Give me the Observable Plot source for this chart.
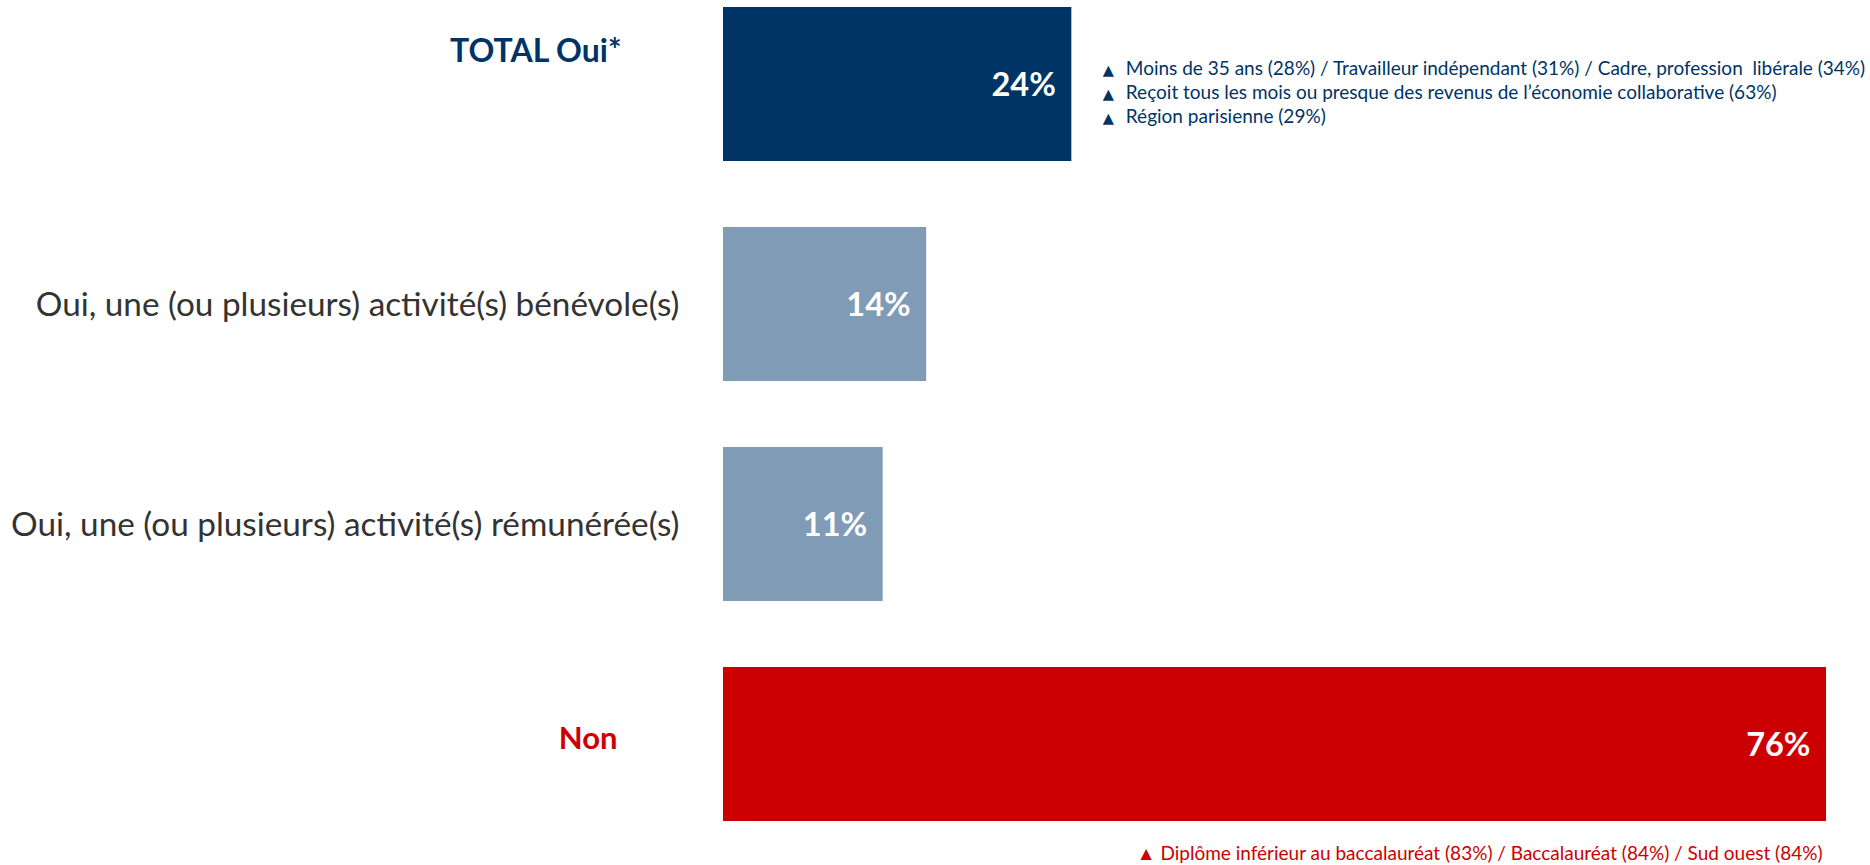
<!DOCTYPE html>
<html>
<head>
<meta charset="utf-8">
<script src="https://cdn.jsdelivr.net/npm/d3@7"></script>
<script src="https://cdn.jsdelivr.net/npm/@observablehq/plot@0.6"></script>
<style>
  html, body { margin: 0; padding: 0; background: #ffffff; }
  #chart { width: 1870px; height: 865px; }
  #chart svg text { white-space: pre; }
</style>
</head>
<body>
<div id="chart"></div>
<script>
const categories = [
  "TOTAL Oui*",
  "Oui, une (ou plusieurs) activité(s) bénévole(s)",
  "Oui, une (ou plusieurs) activité(s) rémunérée(s)",
  "Non"
];
const values = [24, 14, 11, 76];
const valueLabels = ["24%", "14%", "11%", "76%"];
const totalNotes = [
  "Moins de 35 ans (28%) / Travailleur indépendant (31%) / Cadre, profession  libérale (34%)",
  "Reçoit tous les mois ou presque des revenus de l’économie collaborative (63%)",
  "Région parisienne (29%)"
];
const nonNotes = [
  "Diplôme inférieur au baccalauréat (83%) / Baccalauréat (84%) / Sud ouest (84%)"
];

const rows = categories.map((c, i) => ({category: c, value: values[i], label: valueLabels[i]}));

const NAVY = "#003366";
const STEEL = "#7f9bb5";
const RED = "#cc0000";

const chart = Plot.plot({
  width: 1870,
  height: 865,
  marginLeft: 723,
  marginRight: 44,
  marginTop: 0,
  marginBottom: 0,
  style: {fontFamily: "Lato, 'Open Sans', sans-serif", background: "#ffffff"},
  x: {domain: [0, 76], axis: null},
  y: {domain: categories, range: [6, 821], paddingInner: 0.3, paddingOuter: 0, axis: null},
  color: {domain: categories, range: [NAVY, STEEL, STEEL, RED]},
  marks: [
    Plot.barX(rows, {x: "value", y: "category", fill: "category"}),
    Plot.text(rows, {
      x: "value", y: "category", text: "label",
      textAnchor: "end", dx: -16, dy: 1,
      fill: "white", fontWeight: "bold", fontSize: 32.5
    }),
    // left labels: TOTAL (navy bold)
    Plot.text(rows.filter((d, i) => i === 0), {
      y: "category", text: "category", frameAnchor: "left",
      textAnchor: "end", dx: -102, dy: -33,
      fill: NAVY, fontWeight: "bold", fontSize: 32
    }),
    // left labels: middle (grey regular)
    Plot.text(rows.filter((d, i) => i === 1 || i === 2), {
      y: "category", text: "category", frameAnchor: "left",
      textAnchor: "end", dx: -44, dy: 1,
      fill: "#333333", fontSize: 33.3
    }),
    // left labels: Non (red bold)
    Plot.text(rows.filter((d, i) => i === 3), {
      y: "category", text: "category", frameAnchor: "left",
      textAnchor: "end", dx: -106, dy: -5,
      fill: RED, fontWeight: "bold", fontSize: 31
    }),
    // annotations beside TOTAL bar
    Plot.text(rows.filter((d, i) => i === 0), {
      x: "value", y: "category", text: () => totalNotes.join("\n"),
      textAnchor: "start", dx: 54, dy: 7,
      fontSize: 19, lineHeight: 24 / 19, fill: NAVY
    }),
    Plot.text(rows.filter((d, i) => i === 0), {
      x: "value", y: "category", text: () => totalNotes.map(() => "▲").join("\n"),
      textAnchor: "start", dx: 31, dy: 7,
      fontSize: 14.5, lineHeight: 24 / 14.5, fill: NAVY, fontFamily: "DejaVu Sans"
    }),
    // annotation under Non bar
    Plot.text(rows.filter((d, i) => i === 3), {
      x: "value", y: "category", text: () => "▲ " + nonNotes[0],
      textAnchor: "end", dx: -4, dy: 109,
      fontSize: 19, fill: RED
    })
  ]
});

document.getElementById("chart").appendChild(chart);
</script>
</body>
</html>
